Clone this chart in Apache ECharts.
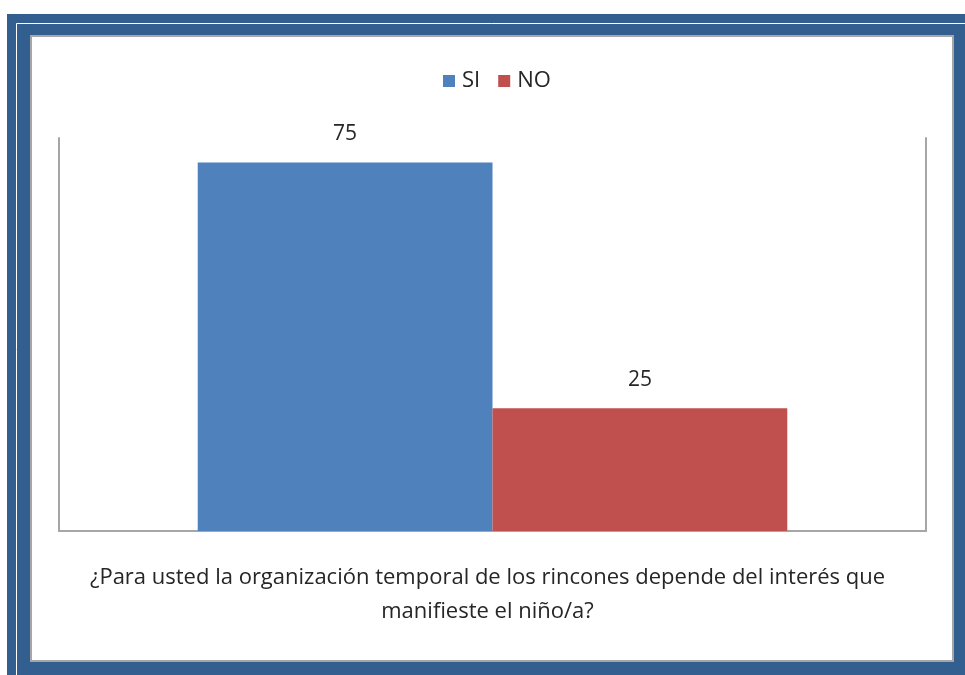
<!DOCTYPE html>
<html>
<head>
<meta charset="utf-8">
<script src="https://cdn.jsdelivr.net/npm/echarts@6/dist/echarts.min.js"></script>
<style>
  html, body { margin: 0; padding: 0; background: #fff; }
  #chart { width: 965px; height: 675px; }
</style>
</head>
<body>
<div id="chart"></div>
<script>
// datos de la gráfica
const categories = ["¿Para usted la organización temporal de los rincones depende del interés que\nmanifieste el niño/a?"]
const seriesNames = ["SI", "NO"]
const siValues = [75]
const noValues = [25]
const barColors = ["#4f81bd", "#c0504d"]

const fontName = "Open Sans"
const textColor = "#262626"

const dom = document.getElementById("chart")
const myChart = echarts.init(dom, null, { renderer: "canvas" })

// marco azul alrededor
const frame = [
    { type: "rect", shape: { x: 7, y: 14, width: 970, height: 670 }, style: { fill: "#335e90" }, z: -10 },
    { type: "rect", shape: { x: 16.5, y: 23.5, width: 950, height: 700 }, style: { fill: null, stroke: "#ffffff", lineWidth: 1 }, z: -9 },
    { type: "rect", shape: { x: 31, y: 36, width: 922, height: 625 }, style: { fill: "#ffffff", stroke: "#a6a6a6", lineWidth: 2 }, z: -8 }
]

const makeSeries = (name, values, color) => ({
    name: name,
    type: "bar",
    data: values,
    barGap: "0%",
    barCategoryGap: "32%",
    itemStyle: { color: color },
    label: {
        show: true,
        position: "top",
        distance: 18,
        color: textColor,
        fontFamily: fontName,
        fontSize: 21
    }
})

const option = {
    animation: false,
    graphic: frame,
    legend: {
        data: seriesNames,
        top: 65,
        left: 438,
        itemWidth: 12,
        itemHeight: 12,
        itemGap: 18,
        icon: "rect",
        textStyle: { color: textColor, fontFamily: fontName, fontSize: 22, padding: [0, 0, 0, 2] }
    },
    grid: { left: 59, right: 39, top: 138, bottom: 144, containLabel: false },
    xAxis: {
        type: "category",
        data: categories,
        axisLine: { show: true, lineStyle: { color: "#a6a6a6", width: 2 } },
        axisTick: { show: false },
        axisLabel: {
            color: textColor,
            fontFamily: fontName,
            fontSize: 22,
            lineHeight: 34,
            margin: 30,
            interval: 0,
            padding: [0, 10, 0, 0]
        }
    },
    yAxis: [
        {
            type: "value",
            min: 0,
            max: 80,
            interval: 10,
            axisLine: { show: true, lineStyle: { color: "#a6a6a6", width: 2 } },
            axisTick: { show: false },
            axisLabel: { show: false },
            splitLine: { show: false }
        },
        {
            type: "value",
            position: "right",
            min: 0,
            max: 80,
            interval: 10,
            axisLine: { show: true, lineStyle: { color: "#a6a6a6", width: 2 } },
            axisTick: { show: false },
            axisLabel: { show: false },
            splitLine: { show: false }
        }
    ],
    series: [
        makeSeries(seriesNames[0], siValues, barColors[0]),
        makeSeries(seriesNames[1], noValues, barColors[1])
    ]
}

myChart.setOption(option)
</script>
</body>
</html>
